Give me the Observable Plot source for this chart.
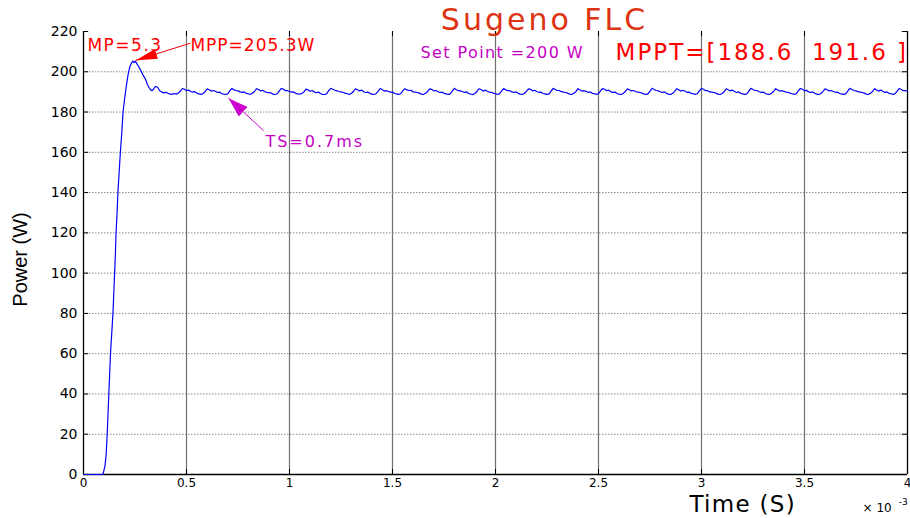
<!DOCTYPE html>
<html>
<head>
<meta charset="utf-8">
<script src="https://cdn.jsdelivr.net/npm/d3@7"></script>
<script src="https://cdn.jsdelivr.net/npm/@observablehq/plot@0.6"></script>
<style>
  html, body { margin: 0; padding: 0; background: #fff; }
  svg text { white-space: pre; }
</style>
</head>
<body>
<div id="chart"></div>
<script>
// ---- axis ticks ----
const xTicks = [0, 0.5, 1, 1.5, 2, 2.5, 3, 3.5, 4];          // time, x 10^-3 s
const yTicks = [0, 20, 40, 60, 80, 100, 120, 140, 160, 180, 200, 220];

// ---- start-up transient (time in ms, power in W) ----
const transientT = [0, 0.05, 0.093, 0.098, 0.104, 0.110, 0.115, 0.119, 0.123, 0.127, 0.131, 0.137,
  0.143, 0.147, 0.151, 0.155, 0.158, 0.163, 0.167, 0.173, 0.179, 0.186, 0.192, 0.200, 0.208, 0.217,
  0.225, 0.233, 0.240, 0.246, 0.252, 0.258, 0.265, 0.272, 0.280, 0.290, 0.300, 0.310, 0.318, 0.326, 0.333];
const transientP = [0, 0, 0, 1.5, 4, 10, 20, 30, 40, 50, 60, 70,
  80, 90, 100, 110, 120, 130, 140, 150, 160, 170, 180, 187, 193, 199,
  202.5, 204.3, 205.3, 204.6, 205.2, 204.2, 203.0, 201.8, 200.3, 198.2, 196.5, 193.8, 192.2, 191.0, 190.6];

// ---- steady-state ripple, sampled every 0.01 ms from 0.34 ms ----
const steadyStart = 0.34;
const steadyStep = 0.01;
const steadyP = [
  191.4, 192.7, 192.3, 190.6, 189.9, 189.5, 189.8, 189.3, 189.0, 188.8, 189.2, 188.9, 189.5,
  190.3, 191.7, 191.3, 190.6, 190.9, 190.2, 189.9, 190.1, 189.4, 189.0, 188.8, 189.2,
  190.1, 191.5, 191.1, 190.4, 190.7, 190.3, 189.7, 189.9, 189.2, 188.9, 188.7, 189.0,
  190.5, 191.8, 191.0, 190.7, 190.5, 190.0, 189.8, 190.0, 189.3, 189.1, 188.8, 189.3,
  190.2, 191.6, 191.2, 190.5, 190.8, 190.1, 189.8, 189.6, 189.5, 188.9, 188.7, 189.1,
  190.4, 191.7, 191.4, 190.6, 190.6, 190.2, 189.9, 190.0, 189.3, 189.0, 188.9, 189.2,
  190.0, 191.4, 191.0, 190.3, 190.7, 190.0, 189.6, 189.9, 189.2, 188.8, 188.7, 189.0,
  190.6, 191.8, 191.3, 190.8, 190.6, 190.2, 190.0, 189.7, 189.4, 189.1, 188.8, 189.2,
  190.2, 191.5, 191.1, 190.5, 190.9, 190.1, 189.7, 189.9, 189.3, 188.9, 188.7, 189.1,
  190.3, 191.7, 191.2, 190.4, 190.6, 190.3, 189.8, 190.0, 189.2, 189.0, 188.8, 189.1,
  190.5, 191.6, 191.0, 190.7, 190.8, 190.0, 189.9, 189.7, 189.4, 188.9, 188.7, 189.3,
  190.1, 191.5, 191.3, 190.5, 190.7, 190.2, 189.7, 189.9, 189.3, 189.0, 188.8, 189.0,
  190.4, 191.8, 191.1, 190.6, 190.5, 190.1, 189.8, 190.0, 189.2, 188.9, 188.7, 189.2,
  190.2, 191.6, 191.2, 190.4, 190.9, 190.3, 189.9, 189.8, 189.4, 189.1, 188.8, 189.1,
  190.5, 191.7, 191.0, 190.6, 190.6, 190.0, 189.7, 190.0, 189.3, 188.9, 188.7, 189.2,
  190.3, 191.5, 191.3, 190.5, 190.8, 190.2, 189.8, 189.9, 189.2, 189.0, 188.8, 189.0,
  190.4, 191.8, 191.2, 190.7, 190.7, 190.1, 189.9, 189.7, 189.4, 188.9, 188.7, 189.3,
  190.1, 191.6, 191.0, 190.4, 190.6, 190.3, 189.7, 190.0, 189.3, 189.1, 188.8, 189.1,
  190.5, 191.7, 191.3, 190.6, 190.9, 190.0, 189.8, 189.9, 189.2, 188.9, 188.7, 189.2,
  190.2, 191.5, 191.1, 190.5, 190.7, 190.2, 189.9, 189.8, 189.4, 189.0, 188.8, 189.0,
  190.4, 191.8, 191.2, 190.7, 190.5, 190.1, 189.7, 190.0, 189.3, 188.9, 188.7, 189.3,
  190.3, 191.6, 191.0, 190.4, 190.8, 190.3, 189.8, 189.9, 189.2, 189.1, 188.8, 189.1,
  190.5, 191.7, 191.3, 190.6, 190.6, 190.0, 189.9, 189.7, 189.4, 188.9, 188.7, 189.2,
  190.1, 191.5, 191.1, 190.5, 190.9, 190.2, 189.7, 190.0, 189.3, 189.0, 188.8, 189.0,
  190.4, 191.8, 191.2, 190.7, 190.7, 190.1, 189.8, 189.9, 189.2, 188.9, 188.7, 189.3,
  190.2, 191.6, 191.0, 190.4, 190.6, 190.3, 189.9, 189.8, 189.4, 189.1, 188.8, 189.1,
  190.5, 191.7, 191.3, 190.6, 190.8, 190.0, 189.7, 190.0, 189.3, 188.9, 188.7, 189.2,
  190.3, 191.5, 191.1, 190.5, 190.7, 190.2, 189.8, 189.9, 189.2, 189.0, 188.8, 189.0,
  190.4, 191.8, 191.2, 190.7, 190.5, 190.1, 189.9, 189.7, 189.4, 188.9, 188.7, 189.3,
  190.2, 191.6, 191.0, 190.4, 190.9, 190.3, 189.7, 190.0, 189.3, 189.1, 188.8, 189.1,
  190.4, 191.7, 191.2, 190.6, 190.7, 190.2
];

// ---- annotation texts ----
const titleText = "Sugeno FLC";
const mpText = "MP=5.3";
const mppText = "MPP=205.3W";
const setPointText = "Set Point =200 W";
const mpptText = "MPPT=[188.6\u00a0\u00a0191.6\u00a0]";
const tsText = "TS=0.7ms";
const xLabel = "Time (S)";
const yLabel = "Power (W)";
const xScaleText = "\u00d7 10";
const xScaleExp = "-3";

// annotation anchor points (data coordinates: ms, W)
const titleAt = {x: 2.238, y: 225.5};
const mpAt = {x: 0.019, y: 212.8};
const mppAt = {x: 0.519, y: 212.8};
const setPointAt = {x: 1.636, y: 209.3};
const mpptAt = {x: 2.583, y: 209.7};
const tsAt = {x: 0.883, y: 165.4};
const xLabelAt = {x: 3.2, y: -15.2};
const yLabelAt = {x: -0.306, y: 106.8};
const xScaleAt = {x: 3.782, y: -16.8};
const xExpAt = {x: 3.958, y: -13.8};
const mppArrow = [{x1: 0.519, y1: 214.2, x2: 0.252, y2: 205.6}];
const tsArrow = [{x1: 0.874, y1: 170.8, x2: 0.704, y2: 186.9}];

const series = transientT.map((t, i) => ({t, p: transientP[i]}))
  .concat(steadyP.map((p, i) => ({t: Math.round((steadyStart + i * steadyStep) * 1000) / 1000, p})));

const txt = (s, at, opts) => Plot.text([s], {x: [at.x], y: [at.y], text: d => d, ...opts});

const plot = Plot.plot({
  width: 910,
  height: 518,
  marginLeft: 83,
  marginRight: 3,
  marginTop: 31,
  marginBottom: 44,
  style: {fontFamily: "DejaVu Sans", fontSize: "14px", color: "#000", background: "#fff"},
  x: {domain: [0, 4]},
  y: {domain: [0, 220]},
  marks: [
    Plot.ruleY(yTicks.filter(v => v > 0 && v < 220), {stroke: "#888", strokeDasharray: "1.5,1.5"}),
    Plot.ruleX(xTicks.filter(v => v > 0 && v < 4), {stroke: "#707070", strokeWidth: 1.2}),
    Plot.ruleY(yTicks, {x1: 0, x2: 0.025, stroke: "#000"}),
    Plot.ruleY(yTicks, {x1: 3.975, x2: 4, stroke: "#000"}),
    Plot.ruleX(xTicks, {y1: 0, y2: 2.5, stroke: "#000"}),
    Plot.ruleX(xTicks, {y1: 217.5, y2: 220, stroke: "#000"}),
    Plot.ruleX([0, 4], {stroke: "#000", strokeWidth: 1.3}),
    Plot.ruleY([0], {stroke: "#000", strokeWidth: 1.3}),
    Plot.axisX({ticks: xTicks, tickSize: 0, tickPadding: 4, label: null, tickFormat: d => String(d), fontSize: 12}),
    Plot.axisY({ticks: yTicks, tickSize: 0, tickPadding: 6, label: null, tickFormat: d => String(d), fontSize: 14}),
    Plot.line(series, {x: "t", y: "p", stroke: "#0000ff", strokeWidth: 1.2}),
    Plot.link(mppArrow, {x1: "x1", y1: "y1", x2: "x2", y2: "y2", stroke: "#ff0000", strokeWidth: 1}),
    Plot.link(tsArrow, {x1: "x1", y1: "y1", x2: "x2", y2: "y2", stroke: "#cc00cc", strokeWidth: 1}),
    txt(titleText, titleAt, {fill: "#dd3311", fontSize: 30, textAnchor: "middle"}),
    txt(mpText, mpAt, {fill: "#ff0000", fontSize: 17, textAnchor: "start"}),
    txt(mppText, mppAt, {fill: "#ff0000", fontSize: 17, textAnchor: "start"}),
    txt(setPointText, setPointAt, {fill: "#c400c4", fontSize: 16, textAnchor: "start"}),
    txt(mpptText, mpptAt, {fill: "#ff0000", fontSize: 23, textAnchor: "start"}),
    txt(tsText, tsAt, {fill: "#c400c4", fontSize: 16, textAnchor: "start"}),
    txt(xLabel, xLabelAt, {fill: "#000", fontSize: 23, textAnchor: "middle"}),
    txt(yLabel, yLabelAt, {fill: "#000", fontSize: 20, fontFamily: "Liberation Sans", rotate: -90, textAnchor: "middle"}),
    txt(xScaleText, xScaleAt, {fill: "#000", fontSize: 12, textAnchor: "start"}),
    txt(xScaleExp, xExpAt, {fill: "#000", fontSize: 9, textAnchor: "start"})
  ]
});

// filled arrow heads and letter spacing (styling only)
const svg = d3.select(plot);
const defs = svg.append("defs");
function addHead(id, color, len, wid) {
  defs.append("marker")
    .attr("id", id)
    .attr("viewBox", `0 0 ${len} ${wid}`)
    .attr("refX", len).attr("refY", wid / 2)
    .attr("markerWidth", len).attr("markerHeight", wid)
    .attr("markerUnits", "userSpaceOnUse")
    .attr("orient", "auto")
    .append("path")
    .attr("d", `M0,0L${len},${wid / 2}L0,${wid}Z`)
    .attr("fill", color)
    .attr("stroke", "none");
}
addHead("head-red", "#ff0000", 22, 10);
addHead("head-mag", "#cc00cc", 20, 13);
const headIds = ["head-red", "head-mag"];
svg.selectAll('g[aria-label="link"]').each(function (d, i) {
  d3.select(this).selectAll("path").attr("marker-end", `url(#${headIds[i]})`);
});
const spacing = new Map([[titleText, 3], [mpText, 1.5], [mppText, 1], [setPointText, 1.4], [mpptText, 2], [tsText, 2], [xLabel, 1.3]]);
svg.selectAll("text").each(function () {
  const s = spacing.get(this.textContent);
  if (s != null) d3.select(this).style("letter-spacing", s + "px");
});

document.getElementById("chart").append(plot);
</script>
</body>
</html>
